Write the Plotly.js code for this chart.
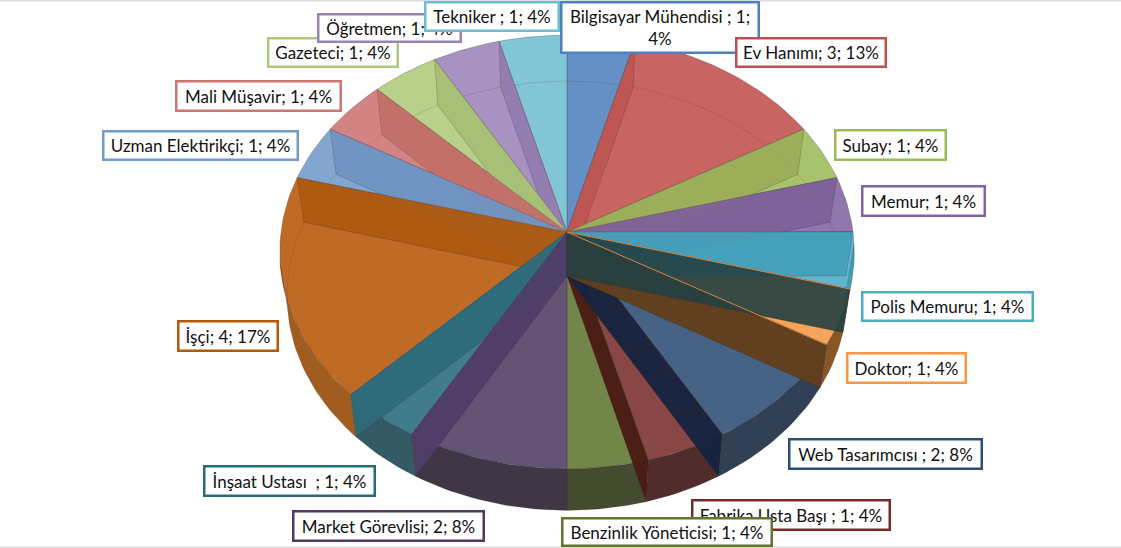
<!DOCTYPE html>
<html>
<head>
<meta charset="utf-8">
<script src="https://cdn.plot.ly/plotly-3.0.1.min.js"></script>
<style>html,body{margin:0;padding:0;background:#fff}#chart{width:1121px;height:548px}</style>
</head>
<body>
<div id="chart"></div>
<script>
// ---- data ----
const categories = ["Bilgisayar Mühendisi ", "Ev Hanımı", "Subay", "Memur", "Polis Memuru", "Doktor", "Web Tasarımcısı ", "Fabrika Usta Başı ", "Benzinlik Yöneticisi", "Market Görevlisi", "İnşaat Ustası  ", "İşçi", "Uzman Elektirikçi", "Mali Müşavir", "Gazeteci", "Öğretmen", "Tekniker "];
const values = [1, 3, 1, 1, 1, 1, 2, 1, 1, 2, 1, 4, 1, 1, 1, 1, 1];

// ---- styles ----
const baseColors = ["#4F81BD", "#C0504D", "#9BBB59", "#8064A2", "#4BACC6", "#F79646", "#2C4D75", "#772C2A", "#5F7530", "#4D3B62", "#276A7C", "#B65708", "#729ACA", "#CD7371", "#AFC97A", "#9B83B8", "#6FBDD1"];
const startWallColors = [null, "#BE5653", "#9BAD58", "#7D6198", "#45A0BB", null, null, null, null, null, null, null, null, null, null, null, null];
const endWallColors = [null, null, null, null, "#234043", "#623E1C", "#17233F", "#4A1A14", null, "#4F3D68", "#2F6B7A", "#AD5A10", "#6F94C2", "#C26F6A", "#A8BF75", "#937DB0", null];
const rimColors = [null, null, null, null, "#3F9CB6", "#85521F", "#2A3A50", "#4A2525", "#3E4528", "#3A3040", "#2C5560", "#9E5818", null, null, null, null, null];
const endWallOrder = [15, 14, 13, 12, 11, 10, 9, 7, 6, 5, 4];

// outer box of each label: left, right, top, bottom
const labelBoxes = [[560,760,1,54],[735,887,37,68],[834,947,129,161],[861,986,185,217],[861,1034,291,322],[846,967,352,384],[788,983,438,470],[691,891,499,531],[561,773,517,547],[292,485,510,542],[203,376,465,497],[177,279,320,352],[102,299,130,161],[175,342,80,112],[267,399,37,68],[317,462,13,43],[424,560,1,32]];
const labelOrder = [7, 8, 6, 5, 4, 3, 2, 0, 1, 9, 10, 11, 12, 13, 14, 15, 16];

// ---- projection of the tilted disc ----
const disc = {cx: 567, cy: 232, a: 286, b: 215, k: 0.092, depth: 44, bottomX: 0.975, bottomY: 0.99};
function rimPoint(deg, bottom) {
  const t = deg * Math.PI / 180, u = Math.sin(t), v = -Math.cos(t), d = 1 - disc.k * v;
  return bottom
    ? [disc.cx + disc.bottomX * disc.a * u / d, disc.cy + disc.depth + disc.bottomY * disc.b * v / d]
    : [disc.cx + disc.a * u / d, disc.cy + disc.b * v / d];
}
function arc(a0, a1, bottom) {
  const pts = [], n = Math.max(2, Math.ceil(Math.abs(a1 - a0) / 1.5));
  for (let i = 0; i <= n; i++) pts.push(rimPoint(a0 + (a1 - a0) * i / n, bottom));
  return pts;
}
function poly(points, fill, name, line, width) {
  const closed = points.concat([points[0]]);
  return {
    type: "scatter", mode: "lines", fill: "toself", fillcolor: fill,
    x: closed.map(p => p[0]), y: closed.map(p => p[1]),
    line: {color: line || "rgba(70,50,50,0.4)", width: width === undefined ? 0.7 : width},
    name: name, text: name, hoverinfo: "text", showlegend: false
  };
}
function alpha(hex, o) {
  const n = parseInt(hex.slice(1), 16);
  return "rgba(" + (n >> 16) + "," + ((n >> 8) & 255) + "," + (n & 255) + "," + o + ")";
}

const total = values.reduce((s, v) => s + v, 0);
const starts = [], ends = [];
values.reduce((acc, v, i) => { starts[i] = acc; ends[i] = acc + v / total * 360; return ends[i]; }, 0);
const labels = categories.map((c, i) => c + "; " + values[i] + "; " + Math.round(values[i] / total * 100) + "%");

const traces = [];
const apexT = [disc.cx, disc.cy], apexB = [disc.cx, disc.cy + disc.depth];

// top faces
categories.forEach((c, i) => {
  traces.push(poly([apexT].concat(arc(starts[i], ends[i], false)), alpha(baseColors[i], 0.88), labels[i]));
});
// back edge of the lower disc, seen through the top
[[262, 360], [0, 90]].forEach(r => {
  const pts = arc(r[0], r[1], true);
  traces.push({type: "scatter", mode: "lines", x: pts.map(p => p[0]), y: pts.map(p => p[1]),
    line: {color: "rgba(80,50,50,0.22)", width: 0.8}, hoverinfo: "skip", showlegend: false});
});
// outer wall at the front
categories.forEach((c, i) => {
  if (!rimColors[i]) return;
  const a0 = Math.max(starts[i], 93), a1 = Math.min(ends[i], 262);
  traces.push(poly(arc(a0, a1, false).concat(arc(a1, a0, true)), alpha(rimColors[i], 0.97), labels[i], "rgba(50,40,40,0.3)", 0.5));
});
// radial walls
function wall(deg, color, i) {
  const top = rimPoint(deg, false), bot = rimPoint(deg, true);
  traces.push(poly([apexT, top, bot, apexB], color, labels[i], "rgba(60,40,40,0.35)", 0.6));
}
categories.forEach((c, i) => { if (startWallColors[i]) wall(starts[i], alpha(startWallColors[i], 0.95), i); });
endWallOrder.forEach(i => { if (endWallColors[i]) wall(ends[i], alpha(endWallColors[i], i === 4 ? 0.9 : 0.96), i); });
// orange edges of the Doktor slice, showing through the wall above them
[starts[5], ends[5]].forEach(d => {
  const p = rimPoint(d, false);
  traces.push({type: "scatter", mode: "lines", x: [apexT[0], p[0]], y: [apexT[1], p[1]],
    line: {color: "#D9853A", width: 1}, hoverinfo: "skip", showlegend: false});
});

// labels
const annotations = labelOrder.map(i => {
  const b = labelBoxes[i];
  return {
    xref: "x", yref: "y", x: (b[0] + b[1]) / 2, y: (b[2] + b[3]) / 2,
    xanchor: "center", yanchor: "middle",
    text: i === 0 ? "Bilgisayar Mühendisi ; 1;<br>4%" : labels[i],
    showarrow: false, align: "center",
    width: b[1] - b[0] - 5, height: b[3] - b[2] - 5,
    bgcolor: "#FFFFFF", bordercolor: baseColors[i], borderwidth: 2.5, borderpad: 0,
    font: {family: "Lato, Carlito, sans-serif", size: 17, color: "#111"}
  };
});

const layout = {
  width: 1121, height: 548,
  margin: {l: 0, r: 0, t: 0, b: 0},
  paper_bgcolor: "#fff", plot_bgcolor: "#fff",
  showlegend: false,
  xaxis: {range: [0, 1121], visible: false, fixedrange: true},
  yaxis: {range: [548, 0], visible: false, fixedrange: true},
  annotations: annotations,
  shapes: [
    {type: "line", xref: "paper", yref: "paper", x0: 0, x1: 1, y0: 0.999, y1: 0.999, line: {color: "#DEDEDE", width: 2}},
    {type: "line", xref: "paper", yref: "paper", x0: 0, x1: 1, y0: 0.001, y1: 0.001, line: {color: "#DEDEDE", width: 2}}
  ]
};
Plotly.newPlot("chart", traces, layout, {displayModeBar: false, responsive: false});
</script>
</body>
</html>
